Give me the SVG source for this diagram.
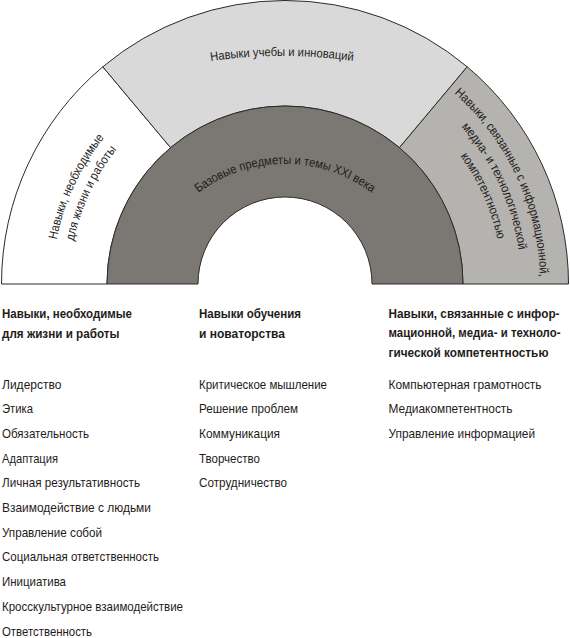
<svg xmlns="http://www.w3.org/2000/svg" width="570" height="638" viewBox="0 0 570 638">
<style>
.seg{stroke:#2b2b2b;stroke-width:1;stroke-linejoin:round}
.arc{font-family:"Liberation Sans",Arial,sans-serif;font-size:12.5px;fill:#1f1c1a}
.h{font-family:"Liberation Sans",Arial,sans-serif;font-size:13px;font-weight:bold;fill:#1f1c1a}
.t{font-family:"Liberation Sans",Arial,sans-serif;font-size:13px;fill:#1f1c1a}
</style>
<defs>
<path id="pTop" d="M152.6,73 A500,500 0 0 1 411.4,73"/>
<path id="pCore" d="M182.5,206.5 A145,145 0 0 1 387.5,206.5"/>
<path id="pL1" d="M52.5,284 A232.5,232.5 0 0 1 135.55,105.9"/>
<path id="pL2" d="M69.5,284 A215.5,215.5 0 0 1 146.5,118.9"/>
<path id="pR1" d="M448.9,88.7 A255,255 0 0 1 540,284"/>
<path id="pR2" d="M436.7,103.2 A236,236 0 0 1 521,284"/>
<path id="pR3" d="M424.5,117.8 A217,217 0 0 1 502,284"/>
</defs>
<rect width="570" height="638" fill="#ffffff"/>

<g id="life-skills">
<path class="seg" fill="#ffffff" d="M1.5,284 A283.5,283.5 0 0 1 102.8,66.8 L170.6,147.7 A178,178 0 0 0 107,284 Z"/>
<text class="arc"><textPath href="#pL1" startOffset="50%" text-anchor="middle" textLength="113.6" lengthAdjust="spacingAndGlyphs">Навыки, необходимые</textPath></text>
<text class="arc"><textPath href="#pL2" startOffset="50%" text-anchor="middle" textLength="102" lengthAdjust="spacingAndGlyphs">для жизни и работы</textPath></text>
</g>

<g id="learning-skills">
<path class="seg" fill="#d9d9d9" d="M102.8,66.8 A283.5,283.5 0 0 1 467.2,66.8 L399.4,147.7 A178,178 0 0 0 170.6,147.7 Z"/>
<text class="arc"><textPath href="#pTop" startOffset="50%" text-anchor="middle" textLength="143" lengthAdjust="spacingAndGlyphs">Навыки учебы и инноваций</textPath></text>
</g>

<g id="ict-skills">
<path class="seg" fill="#b4b3af" d="M467.2,66.8 A283.5,283.5 0 0 1 568.5,284 L463,284 A178,178 0 0 0 399.4,147.7 Z"/>
<text class="arc"><textPath href="#pR1" startOffset="50%" text-anchor="middle" textLength="208" lengthAdjust="spacingAndGlyphs">Навыки, связанные с информационной,</textPath></text>
<text class="arc"><textPath href="#pR2" startOffset="50%" text-anchor="middle" textLength="137.6" lengthAdjust="spacingAndGlyphs">медиа- и технологической</textPath></text>
<text class="arc"><textPath href="#pR3" startOffset="52%" text-anchor="middle" textLength="91.6" lengthAdjust="spacingAndGlyphs">компетентностью</textPath></text>
</g>

<g id="core-subjects">
<path class="seg" fill="#7b7873" d="M107,284 A178,178 0 0 1 463,284 L372,284 A87,87 0 0 0 198,284 Z"/>
<text class="arc"><textPath href="#pCore" startOffset="50%" text-anchor="middle" textLength="186" lengthAdjust="spacingAndGlyphs">Базовые предметы и темы XXI века</textPath></text>
</g>

<g id="connectors"></g>

<g id="list-life">
<text class="h" x="2" y="318" textLength="130" lengthAdjust="spacingAndGlyphs">Навыки, необходимые</text>
<text class="h" x="2" y="337.5" textLength="117.5" lengthAdjust="spacingAndGlyphs">для жизни и работы</text>
<text class="t" x="2" y="388.5" textLength="59.5" lengthAdjust="spacingAndGlyphs">Лидерство</text>
<text class="t" x="2" y="413.2" textLength="31" lengthAdjust="spacingAndGlyphs">Этика</text>
<text class="t" x="2" y="437.9" textLength="87" lengthAdjust="spacingAndGlyphs">Обязательность</text>
<text class="t" x="2" y="462.6" textLength="56" lengthAdjust="spacingAndGlyphs">Адаптация</text>
<text class="t" x="2" y="487.3" textLength="138" lengthAdjust="spacingAndGlyphs">Личная результативность</text>
<text class="t" x="2" y="512" textLength="149" lengthAdjust="spacingAndGlyphs">Взаимодействие с людьми</text>
<text class="t" x="2" y="536.7" textLength="100" lengthAdjust="spacingAndGlyphs">Управление собой</text>
<text class="t" x="2" y="561.4" textLength="157" lengthAdjust="spacingAndGlyphs">Социальная ответственность</text>
<text class="t" x="2" y="586.1" textLength="64" lengthAdjust="spacingAndGlyphs">Инициатива</text>
<text class="t" x="2" y="610.8" textLength="181" lengthAdjust="spacingAndGlyphs">Кросскультурное взаимодействие</text>
<text class="t" x="2" y="635.5" textLength="90" lengthAdjust="spacingAndGlyphs">Ответственность</text>
</g>

<g id="list-learning">
<text class="h" x="199" y="318" textLength="102" lengthAdjust="spacingAndGlyphs">Навыки обучения</text>
<text class="h" x="199" y="337.5" textLength="86" lengthAdjust="spacingAndGlyphs">и новаторства</text>
<text class="t" x="199" y="388.5" textLength="128" lengthAdjust="spacingAndGlyphs">Критическое мышление</text>
<text class="t" x="199" y="413.2" textLength="99" lengthAdjust="spacingAndGlyphs">Решение проблем</text>
<text class="t" x="199" y="437.9" textLength="81" lengthAdjust="spacingAndGlyphs">Коммуникация</text>
<text class="t" x="199" y="462.6" textLength="61" lengthAdjust="spacingAndGlyphs">Творчество</text>
<text class="t" x="199" y="487.3" textLength="88" lengthAdjust="spacingAndGlyphs">Сотрудничество</text>
</g>

<g id="list-ict">
<g transform="translate(388.5,0) scale(0.8,1)">
<text class="h" x="0" y="318" textLength="213.75" lengthAdjust="spacingAndGlyphs">Навыки, связанные с инфор-</text>
<text class="h" x="0" y="337.5" textLength="215" lengthAdjust="spacingAndGlyphs">мационной, медиа- и техноло-</text>
<text class="h" x="0" y="357" textLength="200" lengthAdjust="spacingAndGlyphs">гической компетентностью</text>
</g>
<text class="t" x="388.5" y="388.5" textLength="153" lengthAdjust="spacingAndGlyphs">Компьютерная грамотность</text>
<text class="t" x="388.5" y="413.2" textLength="124" lengthAdjust="spacingAndGlyphs">Медиакомпетентность</text>
<text class="t" x="388.5" y="437.9" textLength="146.5" lengthAdjust="spacingAndGlyphs">Управление информацией</text>
</g>
</svg>
